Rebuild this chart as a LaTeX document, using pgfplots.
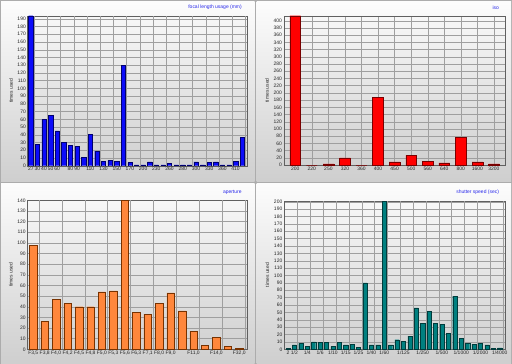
\documentclass[border=0pt]{standalone}
\usepackage{pgfplots}
\pgfplotsset{compat=1.18}
\usepackage{fontspec}
\setmainfont{Liberation Sans}
\definecolor{bblue}{RGB}{12,12,250}
\definecolor{bblueD}{RGB}{0,0,110}
\definecolor{bred}{RGB}{255,0,0}
\definecolor{bredD}{RGB}{120,0,0}
\definecolor{borange}{RGB}{255,135,60}
\definecolor{borangeD}{RGB}{120,50,0}
\definecolor{bteal}{RGB}{0,128,128}
\definecolor{btealD}{RGB}{0,60,60}
\definecolor{ttl}{RGB}{40,40,235}
\pgfplotsset{
  panel/.style={
    scale only axis, anchor=north west,
    ybar, bar width=0.65, ymin=0,
    axis background/.style={top color=gray!6, bottom color=gray!36},
    axis line style={draw=gray!75!black, line width=0.4pt},
    ymajorgrids, grid style={gray!75, line width=0.35pt},
    major tick length=0pt,
    tick style={draw=none},
    tick label style={font=\fontsize{5}{6}\selectfont, text=black!85},
    xticklabel style={yshift=-0.5bp, inner sep=1bp},
    yticklabel style={inner sep=1.5bp},
    /pgf/number format/assume math mode=true,
    ylabel={times used},
    ylabel style={font=\fontsize{5}{6}\selectfont, text=black!85, at={(axis description cs:-0.075,0.5)}, anchor=center},
    title style={font=\fontsize{5}{6}\selectfont, text=ttl, at={(axis description cs:0.99,1)}, anchor=south east, yshift=-3.5bp},
    extra x tick labels={},
    extra x tick style={grid=major},
    clip=true,
    enlargelimits=false,
  }
}
\begin{document}
\begin{tikzpicture}
\useasboundingbox (0,0) rectangle (512bp,-364bp);
\fill[gray!65] (0,0) rectangle (512bp,-364bp);
\shade[top color=gray!2, bottom color=gray!38] (1bp,-1bp) rectangle (254.5bp,-181bp);
\shade[top color=gray!2, bottom color=gray!38] (256.5bp,-1bp) rectangle (511bp,-181bp);
\shade[top color=gray!2, bottom color=gray!38] (1bp,-183bp) rectangle (254.5bp,-363bp);
\shade[top color=gray!2, bottom color=gray!38] (256.5bp,-183bp) rectangle (511bp,-363bp);

% focal length
\begin{axis}[panel, at={(27.5bp,-15.7bp)}, width=220bp, height=150bp,
  ymax=194, ytick={0,10,...,190},
  xmin=-0.5, xmax=32.8, xtick={0,...,32},
  xticklabels={27,30,40,50,60,,80,90,,110,,130,,150,,170,,200,,230,,260,,280,,300,,330,,360,,410,},
  extra x ticks={0.5,2.5,...,32.5},
  title={focal length usage (mm)}]
\addplot[fill=bblue, draw=bblueD, line width=0.4pt] coordinates {
(0,194) (1,28) (2,60) (3,65) (4,45) (5,30) (6,26) (7,25) (8,11) (9,41)
(10,19) (11,6) (12,7) (13,6) (14,130) (15,4) (16,1) (17,1) (18,5) (19,1)
(20,1) (21,3) (22,1) (23,1) (24,1) (25,5) (26,1) (27,4) (28,5) (29,1)
(30,1) (31,6) (32,37)};
\end{axis}

% iso
\begin{axis}[panel, at={(283.7bp,-15.7bp)}, width=221bp, height=149.3bp,
  ymax=414, ytick={0,20,...,400},
  xmin=-0.7, xmax=12.65, xtick={0,...,12},
  xticklabels={200,220,250,320,360,400,450,500,560,640,800,1600,3200},
  xmajorgrids,
  title={iso}]
\addplot[fill=bred, draw=bredD, line width=0.4pt] coordinates {
(0,414) (1,0) (2,3) (3,20) (4,0) (5,187) (6,9) (7,27) (8,11) (9,6) (10,76) (11,9) (12,3)};
\end{axis}

% aperture
\begin{axis}[panel, at={(27.3bp,-200.3bp)}, width=220bp, height=149bp,
  ymax=140, ytick={0,10,...,140},
  xmin=-0.52, xmax=18.7, xtick={0,...,18},
  xticklabels={{F3,5},{F3,8},{F4,0},{F4,2},{F4,5},{F4,8},{F5,0},{F5,3},{F5,6},{F6,3},{F7,1},{F8,0},{F9,0},,{F11,0},,{F14,0},,{F32,0}},
  extra x ticks={0.5,2.5,...,18.5},
  title={aperture}]
\addplot[fill=borange, draw=borangeD, line width=0.4pt] coordinates {
(0,98) (1,26) (2,47) (3,43) (4,40) (5,40) (6,54) (7,55) (8,140) (9,35)
(10,33) (11,43) (12,53) (13,36) (14,17) (15,4) (16,11) (17,3) (18,1)};
\end{axis}

% shutter speed
\begin{axis}[panel, at={(284bp,-201bp)}, width=220.7bp, height=148.3bp,
  ymax=201, ytick={0,10,...,200},
  xmin=-0.62, xmax=33.78, xtick={0,...,33},
  xticklabels={2,1/2,,1/4,,1/6,,1/10,,1/15,,1/25,,1/40,,1/60,,,1/125,,,1/250,,,1/500,,,1/1000,,,1/2000,,,1/4000},
  extra x ticks={1.5,3.5,...,33.5},
  title={shutter speed (sec)}]
\addplot[fill=bteal, draw=btealD, line width=0.4pt] coordinates {
(0,1) (1,6) (2,8) (3,4) (4,10) (5,9) (6,9) (7,4) (8,9) (9,6)
(10,7) (11,3) (12,90) (13,6) (14,6) (15,201) (16,6) (17,13) (18,11) (19,18)
(20,56) (21,35) (22,51) (23,35) (24,34) (25,22) (26,72) (27,15) (28,8) (29,7)
(30,8) (31,6) (32,1) (33,2)};
\end{axis}
\end{tikzpicture}
\end{document}
